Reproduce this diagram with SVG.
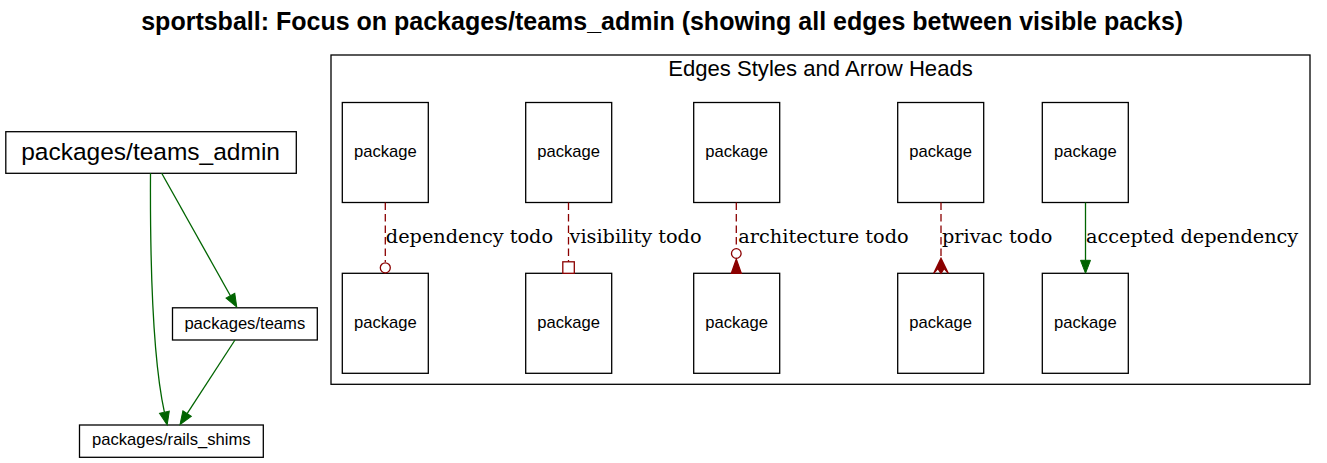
<svg xmlns="http://www.w3.org/2000/svg" width="1327" height="463" viewBox="0 0 1327 463">
<style>
.bg{fill:#fff}
.box{fill:#fff;stroke:#000;stroke-width:1.3}
.sans{font-family:"Liberation Sans",Arial,sans-serif;fill:#000}
.lbl{font-family:"DejaVu Serif",serif;font-size:19.3px;fill:#000}
.ok{fill:none;stroke:#006400;stroke-width:1.3}
.todo{fill:none;stroke:#8b0000;stroke-width:1.3;stroke-dasharray:7.5,4}
.red{fill:#8b0000;stroke:#8b0000;stroke-width:1.3}
.redo{fill:#fff;stroke:#8b0000;stroke-width:1.3}
</style>
<defs>
<marker id="ag" markerUnits="userSpaceOnUse" markerWidth="14" markerHeight="11" refX="0" refY="5" orient="auto" overflow="visible">
<path d="M0,0 L13,5 L0,10 Z" fill="#006400" stroke="#006400" stroke-width="1"/>
</marker>
</defs>
<rect class="bg" x="0" y="0" width="1327" height="463"/>
<text class="sans" x="662.2" y="30" font-size="25" font-weight="bold" text-anchor="middle">sportsball: Focus on packages/teams_admin (showing all edges between visible packs)</text>

<g id="cluster_legend">
<rect x="331" y="55" width="979" height="329.3" fill="none" stroke="#000" stroke-width="1.3"/>
<text class="sans" x="820.5" y="76" font-size="22.1" text-anchor="middle">Edges Styles and Arrow Heads</text>
</g>

<g id="node_teams_admin">
<rect class="box" x="5.8" y="131.7" width="290.5" height="41.6"/>
<text class="sans" x="150.6" y="160" font-size="24.5" text-anchor="middle">packages/teams_admin</text>
</g>
<g id="node_teams">
<rect class="box" x="172.5" y="307.8" width="144.8" height="32.2"/>
<text class="sans" x="244.8" y="329.3" font-size="16.6" text-anchor="middle">packages/teams</text>
</g>
<g id="node_rails_shims">
<rect class="box" x="79.5" y="425" width="183.8" height="32.3"/>
<text class="sans" x="171.3" y="445" font-size="16.6" text-anchor="middle">packages/rails_shims</text>
</g>

<g id="legend_a1"><rect class="box" x="342.3" y="102.5" width="86" height="100"/><text class="sans" x="385.3" y="157.3" font-size="16.6" text-anchor="middle">package</text></g>
<g id="legend_a2"><rect class="box" x="525.7" y="102.5" width="86" height="100"/><text class="sans" x="568.7" y="157.3" font-size="16.6" text-anchor="middle">package</text></g>
<g id="legend_a3"><rect class="box" x="693.7" y="102.5" width="86" height="100"/><text class="sans" x="736.7" y="157.3" font-size="16.6" text-anchor="middle">package</text></g>
<g id="legend_a4"><rect class="box" x="897.7" y="102.5" width="86" height="100"/><text class="sans" x="940.7" y="157.3" font-size="16.6" text-anchor="middle">package</text></g>
<g id="legend_a5"><rect class="box" x="1042.3" y="102.5" width="86" height="100"/><text class="sans" x="1085.3" y="157.3" font-size="16.6" text-anchor="middle">package</text></g>

<g id="legend_b1"><rect class="box" x="342.3" y="273.3" width="86" height="100"/><text class="sans" x="385.3" y="328.3" font-size="16.6" text-anchor="middle">package</text></g>
<g id="legend_b2"><rect class="box" x="525.7" y="273.3" width="86" height="100"/><text class="sans" x="568.7" y="328.3" font-size="16.6" text-anchor="middle">package</text></g>
<g id="legend_b3"><rect class="box" x="693.7" y="273.3" width="86" height="100"/><text class="sans" x="736.7" y="328.3" font-size="16.6" text-anchor="middle">package</text></g>
<g id="legend_b4"><rect class="box" x="897.7" y="273.3" width="86" height="100"/><text class="sans" x="940.7" y="328.3" font-size="16.6" text-anchor="middle">package</text></g>
<g id="legend_b5"><rect class="box" x="1042.3" y="273.3" width="86" height="100"/><text class="sans" x="1085.3" y="328.3" font-size="16.6" text-anchor="middle">package</text></g>

<g id="connectors">
<path class="ok" d="M150.5,173.3 C150,270 153,360 164.4,412.2" marker-end="url(#ag)"/>
<path class="ok" d="M161.7,173.3 L230.4,295.7" marker-end="url(#ag)"/>
<path class="ok" d="M235,340 L187.1,413.6" marker-end="url(#ag)"/>

<path class="todo" d="M385.3,202.5 L385.3,262"/>
<circle class="redo" cx="385.3" cy="267.8" r="5"/>
<text class="lbl" x="385.8" y="243.3">dependency todo</text>

<path class="todo" d="M568.5,202.5 L568.5,262"/>
<rect class="redo" x="562.8" y="261.8" width="11.5" height="11.5"/>
<text class="lbl" x="569.5" y="243.3">visibility todo</text>

<path class="todo" d="M736.3,202.5 L736.3,248.5"/>
<circle class="redo" cx="736.3" cy="253.5" r="4.8"/>
<path class="red" d="M736.3,259.3 L741.3,273.3 L731.3,273.3 Z"/>
<text class="lbl" x="738.3" y="243.3">architecture todo</text>

<path class="todo" d="M941,202.5 L941,262"/>
<path class="red" d="M941,258.3 L948.3,273.3 L944.2,268.5 L941,273.3 L937.8,268.5 L933.7,273.3 Z"/>
<text class="lbl" x="942" y="243.3">privac todo</text>

<path class="ok" d="M1085.5,202.5 L1085.5,260.3" marker-end="url(#ag)"/>
<text class="lbl" x="1086" y="243.3">accepted dependency</text>
</g>
</svg>
